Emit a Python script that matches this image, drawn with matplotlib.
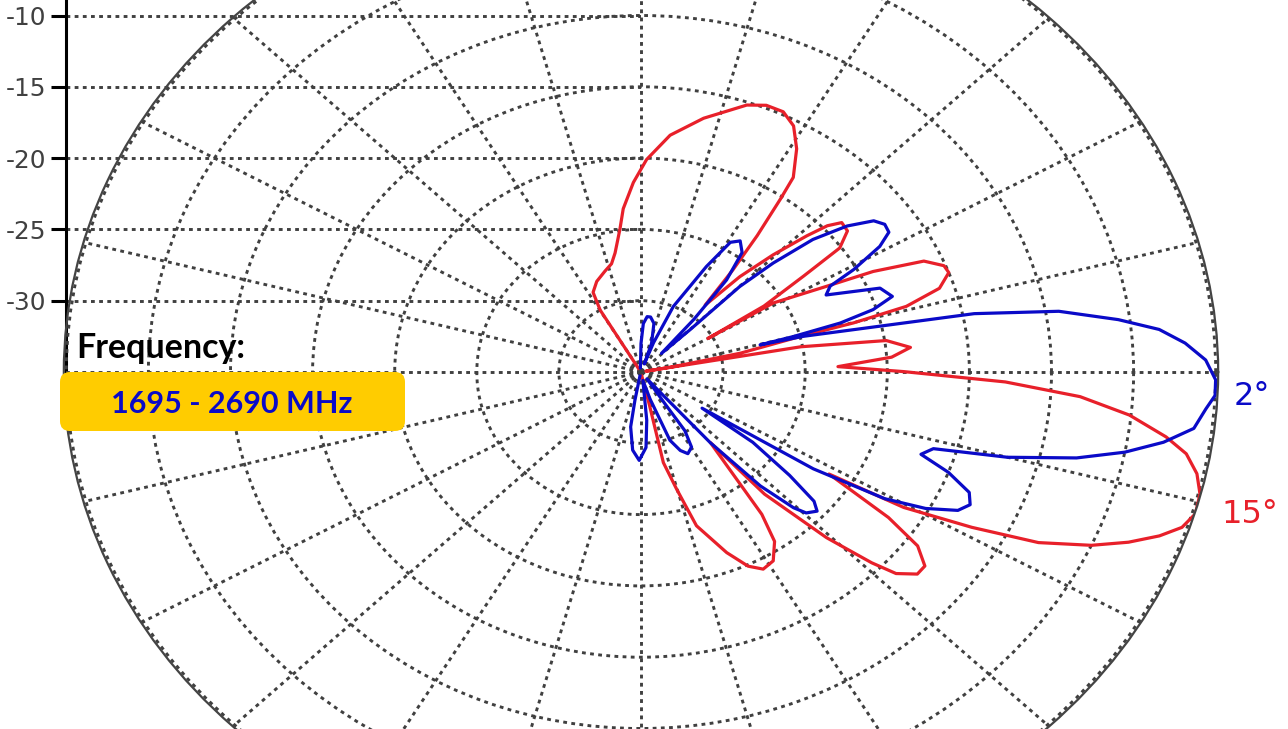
import numpy as np
import matplotlib
matplotlib.use("Agg")
import matplotlib.pyplot as plt
from matplotlib.patches import FancyBboxPatch

plt.rcParams['axes.unicode_minus'] = False

# Vertical-plane patterns: elevation angle (deg, negative = below horizon) and relative gain (dB)
angle_2deg = [97, 90, 87.6, 84.5, 81.4, 77, 72.2, 70.5, 69.6, 66.8, 61.7, 59.1, 56.7, 53.7,
              51.1, 48.9, 46.3, 44.8, 44.9, 43.5, 41.6, 39.2, 36.8, 34.9, 33.0, 31.2, 29.0,
              27.6, 25.6, 22.0, 19.1, 17.2, 15.8, 15.0, 14.7, 14.2, 12.7, 11.4, 9.5, 7.2,
              5.4, 3.5, 1.4, -0.9, -2.7, -4.3, -6.7, -8.8, -10.8, -12.8, -15.0, -16.8,
              -18.7, -20.6, -22.9, -24.9, -26.7, -28.9, -30.9, -32.9, -34.3, -35.9, -38.7,
              -40.7, -42.3, -44.5, -45.7, -47.7, -49.6, -50.3, -53.0, -56.8, -57.0, -59.7,
              -63.5, -66.5, -69.8, -73.7, -79.0, -84.1, -86.7, -91.0, -95.3, -99.3, -100.6,
              -103]
gain_2deg = [-34.7, -33.0, -31.6, -31.1, -31.1, -31.5, -32.9, -34.4, -32.8, -30.0, -26.6,
             -24.4, -24.0, -24.6, -26.7, -30.1, -33.2, -30.8, -26.5, -23.9, -21.0, -18.8,
             -17.3, -16.9, -17.0, -18.0, -20.2, -22.0, -22.5, -19.3, -18.8, -20.2, -22.4,
             -25.4, -27.5, -24.8, -21.0, -14.3, -9.2, -5.7, -3.3, -1.8, -0.6, 0.0, 0.0,
             -0.5, -1.1, -2.8, -5.0, -7.8, -11.9, -16.4, -17.0, -15.0, -13.3, -12.9, -13.4,
             -15.2, -17.7, -22.5, -30.5, -26.6, -23.4, -21.1, -20.5, -20.9, -21.7, -24.2,
             -28.5, -32.6, -34.4, -32.3, -30.1, -28.9, -28.6, -29.0, -29.9, -33.0, -34.4,
             -31.6, -29.7, -28.8, -29.5, -31.1, -33.0, -34.7]

angle_15deg = [122, 119.8, 117.6, 113.0, 107.3, 103.3, 100.7, 97.3, 95.4, 92.0, 88.7, 83.9,
               77.9, 71.0, 67.8, 64.6, 61.7, 58.8, 55.8, 55.0, 53.5, 52.0, 50.2, 48.0, 45.6,
               43.4, 42.1, 40.6, 38.2, 35.7, 34.2, 31.7, 30.0, 31.0, 28.0, 26.5, 24.3, 22.0,
               20.4, 17.9, 15.9, 14.9, 14.4, 12.3, 10.7, 10.5, 10.3, 8.4, 6.0, 3.9, 1.8, 0.1,
               -1.8, -3.7, -5.8, -8.1, -9.8, -11.9, -14.1, -16.4, -18.3, -20.0, -21.9, -23.9,
               -26.3, -28.4, -30.7, -32.0, -34.1, -35.9, -38.2, -40.1, -42.3, -43.6, -45.8,
               -48.7, -49.5, -53.6, -55.6, -58.7, -61.7, -64.4, -67.6, -72.6, -75.2, -77.9,
               -77.5, -80.0]
gain_15deg = [-34.7, -30.0, -28.7, -28.1, -27.6, -27.2, -26.5, -24.9, -23.5, -21.7, -20.1,
              -18.3, -16.8, -15.2, -14.8, -14.8, -15.4, -16.7, -18.5, -20.2, -23.1, -25.9,
              -28.9, -26.0, -23.5, -21.1, -19.7, -18.9, -19.0, -20.1, -23.0, -26.2, -30.3,
              -25.6, -22.2, -19.2, -16.1, -15.1, -15.0, -15.9, -18.2, -21.6, -25.0, -28.8,
              -33.0, -34.7, -25.1, -19.9, -18.5, -19.7, -23.0, -19.0, -12.8, -8.2, -5.1,
              -2.7, -1.3, -0.4, 0.1, 0.2, -0.3, -1.4, -3.0, -5.0, -8.0, -12.1, -16.4, -21.5,
              -16.8, -14.2, -13.0, -13.0, -14.0, -15.6, -18.8, -23.6, -28.5, -22.6, -20.6,
              -19.5, -19.3, -19.9, -21.3, -23.7, -26.5, -28.5, -32.6, -34.7]

radial_ticks = [-30, -25, -20, -15, -10, -5, 0]
scale_ticks = [-30, -25, -20, -15, -10]
r_min, r_max = -35, 0.15
tilt_labels = ["2°", "15°"]
freq_title = "Frequency:"
freq_band = "1695 - 2690 MHz"

# ---- layout (pixels) ----
W, H = 1288, 729
cx, cy = 641, 372           # pattern origin, measured from the top-left corner
px_db_x, px_db_y = 16.42, 14.26
rx = (r_max - r_min) * px_db_x
ry = (r_max - r_min) * px_db_y

blue = '#0A0AC8'
red = '#E8202A'
grid_color = '#404040'
grid_style = dict(color=grid_color, linewidth=2.1, linestyle=(0, (1.3, 1.5)))

fig = plt.figure(figsize=(W / 100, H / 100), dpi=100)
fig.patch.set_facecolor('white')

# dB scale on the left with its horizontal guide lines
ax2 = fig.add_axes([66 / W, (H - cy) / H, (cx - 66) / W, cy / H])
ax2.set_zorder(0)
ax2.set_xlim(0, 1)
ax2.set_ylim(r_min, r_min + cy / px_db_y)
ax2.set_xticks([])
ax2.set_yticks(scale_ticks)
ax2.yaxis.grid(True, **grid_style)
for side in ('top', 'right', 'bottom'):
    ax2.spines[side].set_visible(False)
ax2.spines['left'].set_linewidth(2.2)
ax2.spines['left'].set_color('black')
ax2.tick_params(axis='y', direction='out', length=10.8, width=2.2, color='black',
                pad=3.6, labelsize=17.8, labelcolor='#404040')
ax2.patch.set_visible(False)

# polar pattern plot (stretched to an ellipse)
ax = fig.add_axes([(cx - rx) / W, (H - cy - ry) / H, 2 * rx / W, 2 * ry / H],
                  projection='polar')
ax.set_zorder(1)
ax.set_aspect('auto')
ax.patch.set_visible(False)
ax.set_rlim(r_min, r_max)
ax.set_xticks(np.deg2rad(np.arange(0, 360, 15)))
ax.set_yticks(radial_ticks)
ax.xaxis.set_ticklabels([])
ax.yaxis.set_ticklabels([])
ax.tick_params(length=0)
ax.grid(True, **grid_style)
ax.spines['polar'].set_color('#444444')
ax.spines['polar'].set_linewidth(1.6)

ax.plot(np.deg2rad(angle_15deg), gain_15deg, color=red, lw=2.3, solid_joinstyle='round')
ax.plot(np.deg2rad(angle_2deg), gain_2deg, color=blue, lw=2.3, solid_joinstyle='round')

# tilt labels
fig.text(1234 / W, 1 - 405 / H, tilt_labels[0], color=blue, fontsize=23,
         ha='left', va='baseline')
fig.text(1221 / W, 1 - 523 / H, tilt_labels[1], color=red, fontsize=23,
         ha='left', va='baseline')

# frequency badge
fig.text(76 / W, 1 - 358 / H, freq_title, family='Lato', fontweight='bold',
         fontsize=24.5, color='black', ha='left', va='baseline', zorder=6)
badge = FancyBboxPatch((60 / 100, (H - 431) / 100), 345 / 100, 59 / 100,
                       boxstyle='round,pad=0,rounding_size=0.1',
                       transform=fig.dpi_scale_trans, fc='#FFCC00', ec='none', zorder=5)
fig.add_artist(badge)
fig.text(232 / W, 1 - 413 / H, freq_band, family='Lato', fontweight='bold',
         fontsize=22, color='#0A0AC8', ha='center', va='baseline', zorder=6)

fig.savefig('out.png', dpi=100)
